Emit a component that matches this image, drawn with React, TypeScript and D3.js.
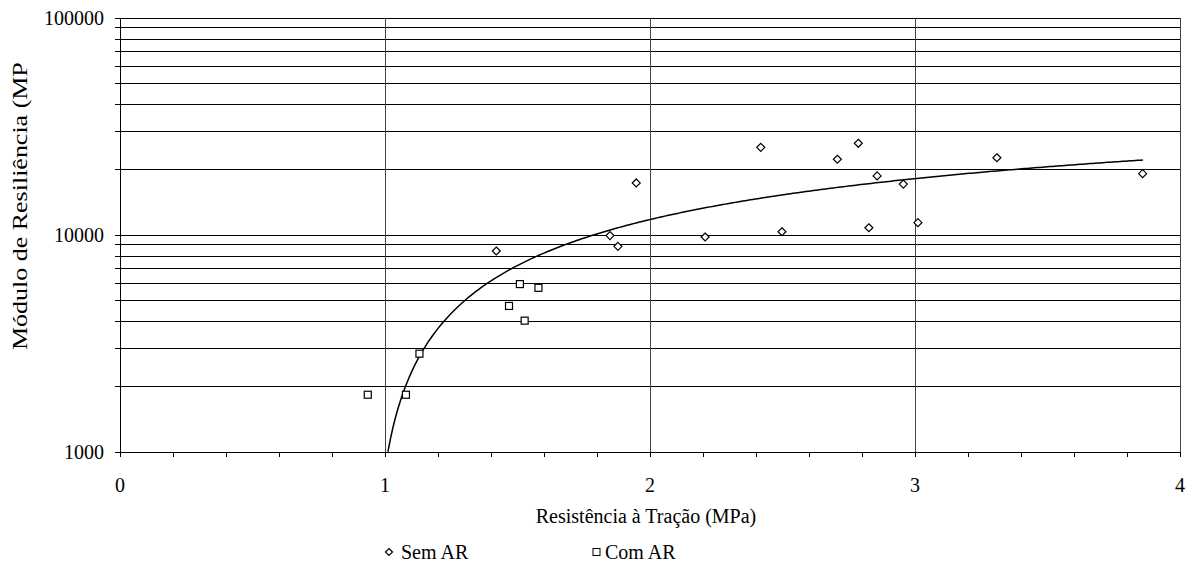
import React from "react";
import * as d3 from "d3";

// Sem AR (diamonds)
const semAR_x = [1.42, 1.849, 1.879, 1.948, 2.208, 2.418, 2.498, 2.707, 2.786, 2.826, 2.857, 2.956, 3.011, 3.309, 3.859];
const semAR_y = [8440, 9940, 8870, 17370, 9790, 25360, 10350, 22340, 26460, 10800, 18720, 17170, 11400, 22700, 19170];

// Com AR (squares)
const comAR_x = [0.935, 1.079, 1.13, 1.509, 1.579, 1.468, 1.527];
const comAR_y = [1836, 1836, 2839, 5940, 5710, 4710, 4030];

// Logarithmic trendline y = A ln(x) + B
const TREND_A = 15800;
const TREND_B = 830;
const TREND_X0 = 1.011;
const TREND_X1 = 3.86;

const xTicks = [0, 1, 2, 3, 4];
const yTicks = [1000, 10000, 100000];

const W = 1190;
const H = 564;
const FONT = '"Liberation Serif", "Times New Roman", serif';

export default function App() {
  const x = d3.scaleLinear().domain([0, 4]).range([120, 1180]);
  const y = d3.scaleLog().domain([1000, 100000]).range([452, 18]);

  const hGrid: number[] = [];
  for (const dec of [1000, 10000]) {
    for (let k = 1; k <= 9; k++) hGrid.push(dec * k);
  }
  hGrid.push(100000);

  const minorX = d3.range(0, 4.0001, 0.2);

  const trendPts: [number, number][] = [];
  const nSteps = 300;
  for (let i = 0; i <= nSteps; i++) {
    const xv = TREND_X0 + ((TREND_X1 - TREND_X0) * i) / nSteps;
    const yv = TREND_A * Math.log(xv) + TREND_B;
    if (yv >= 1000) trendPts.push([xv, yv]);
  }
  const line = d3
    .line<[number, number]>()
    .x((d) => x(d[0]))
    .y((d) => y(d[1]));

  const diamond = (cx: number, cy: number, r: number) =>
    `M${cx},${cy - r}L${cx + r},${cy}L${cx},${cy + r}L${cx - r},${cy}Z`;

  const x0 = x(0);
  const yb = y(1000);

  return (
    <svg
      width={W}
      height={H}
      style={{ position: "absolute", left: 0, top: 0, background: "#fff" }}
      fontFamily={FONT}
    >
      <defs>
        <clipPath id="ytitleclip">
          <rect x={0} y={62} width={60} height={400} />
        </clipPath>
      </defs>
      {/* gridlines */}
      <g shapeRendering="crispEdges" stroke="#000" strokeWidth={1}>
        {hGrid.map((v) => (
          <line key={"h" + v} x1={x0 - 5} x2={x(4)} y1={y(v)} y2={y(v)} />
        ))}
        {xTicks.slice(1).map((v) => (
          <line key={"v" + v} x1={x(v)} x2={x(v)} y1={y(100000)} y2={yb} stroke="#444" />
        ))}
        {/* axes */}
        <line x1={x0} x2={x0} y1={y(100000)} y2={yb} />
        <line x1={x0} x2={x(4)} y1={yb} y2={yb} />
        {minorX.map((v) => (
          <line key={"t" + v} x1={x(v)} x2={x(v)} y1={yb} y2={yb + 5} />
        ))}
      </g>

      {/* trendline */}
      <path d={line(trendPts) || ""} fill="none" stroke="#000" strokeWidth={1.5} />

      {/* markers */}
      {semAR_x.map((xv, i) => (
        <path
          key={"s" + i}
          d={diamond(x(xv), y(semAR_y[i]), 4)}
          fill="#fff"
          stroke="#000"
          strokeWidth={1.2}
        />
      ))}
      {comAR_x.map((xv, i) => (
        <rect
          key={"c" + i}
          x={x(xv) - 3.5}
          y={y(comAR_y[i]) - 3.5}
          width={7}
          height={7}
          fill="#fff"
          stroke="#000"
          strokeWidth={1.2}
        />
      ))}

      {/* y tick labels */}
      {yTicks.map((v) => (
        <text key={"yl" + v} x={104} y={y(v)} dy="0.35em" textAnchor="end" fontSize={20} fill="#000">
          {v}
        </text>
      ))}
      {/* x tick labels */}
      {xTicks.map((v) => (
        <text key={"xl" + v} x={x(v)} y={485} dy="0.35em" textAnchor="middle" fontSize={20} fill="#000">
          {v}
        </text>
      ))}

      {/* axis titles */}
      <text x={646} y={516} dy="0.35em" textAnchor="middle" fontSize={20} fill="#000">
        Resistência à Tração (MPa)
      </text>
      <g clipPath="url(#ytitleclip)">
        <text
          transform="translate(27,350) rotate(-90)"
          textAnchor="start"
          fontSize={21}
          textLength={308}
          lengthAdjust="spacingAndGlyphs"
          fill="#000"
        >
          Módulo de Resiliência (MPa)
        </text>
      </g>

      {/* legend */}
      <path d={diamond(389, 552, 3.5)} fill="#fff" stroke="#000" strokeWidth={1.2} />
      <text x={401} y={552} dy="0.35em" fontSize={20} fill="#000">
        Sem AR
      </text>
      <rect x={593} y={548.5} width={7} height={7} fill="#fff" stroke="#000" strokeWidth={1} />
      <text x={605} y={552} dy="0.35em" fontSize={20} fill="#000">
        Com AR
      </text>
    </svg>
  );
}
